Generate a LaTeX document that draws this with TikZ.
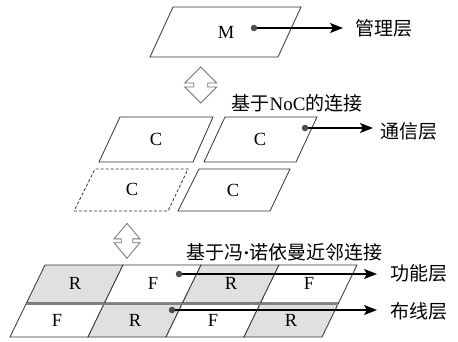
\documentclass[tikz,border=0pt]{standalone}
\usepackage{fontspec}
\setmainfont{Liberation Serif}
\newfontfamily\cjk{Noto Sans CJK SC}
\usetikzlibrary{arrows.meta}
\begin{document}
\begin{tikzpicture}[x=1pt,y=-1pt,
  layer/.style={draw=black!80, line width=0.8pt},
  ghost/.style={layer, dash pattern=on 3pt off 2pt},
  tag/.style={font=\fontsize{18.5}{21}\selectfont, inner sep=0pt},
  lbl/.style={font=\fontsize{19}{21}\selectfont\cjk, inner sep=0pt, anchor=west},
  dot/.style={circle, fill=black!70, minimum size=6.5pt, inner sep=0pt},
  flow/.style={line width=1.3pt, -{Stealth[length=13pt,width=10pt,inset=3pt]}},
  updown/.pic={
    \draw[black!55, line width=0.8pt, fill=white]
      (0,-18) -- (16,-2) -- (7,-2) -- (7,2) -- (16,2) -- (0,18)
      -- (-16,2) -- (-7,2) -- (-7,-2) -- (-16,-2) -- cycle;
  }
]
\useasboundingbox (0,0) rectangle (458,341);

% management layer
\draw[layer] (150,57) -- (278,57) -- (301,7) -- (173,7) -- cycle;
\node[tag] (m) at (226,32.5) {M};
\node[dot] (dm) at (254,28) {};
\node[lbl] (lm) at (355,28) {管理层};
\draw[flow, shorten >=12pt] (dm) -- (dm -| lm.west);

% link between management and communication layers
\pic at (200.7,85) {updown};
\node[tag, font=\fontsize{19}{21}\selectfont] (noc) at (297,103) {{\cjk 基于}NoC{\cjk 的连接}};

% communication layer
\draw[layer] (99,162) -- (193,162) -- (213,117) -- (120,117) -- cycle;
\draw[layer] (204,162) -- (296,162) -- (317,117) -- (225,117) -- cycle;
\draw[ghost] (74,211) -- (168,211) -- (188,169) -- (95,169) -- cycle;
\draw[layer] (178,211) -- (270,211) -- (290,169) -- (199,169) -- cycle;
\node[tag] (c1) at (156,139) {C};
\node[tag] (c2) at (260,139) {C};
\node[tag] (c3) at (132,189) {C};
\node[tag] (c4) at (233,190) {C};
\node[dot] (dc) at (305,128) {};
\node[lbl] (lc) at (380,131) {通信层};
\draw[flow, shorten >=7pt] (dc) -- (dc -| lc.west);

% link between communication and function/routing layers
\pic[xscale=0.81, yscale=0.97] at (127,240.8) {updown};
\node[lbl, anchor=center] (vn) at (284.5,252) {基于冯{\rmfamily\bfseries ·}诺依曼近邻连接};

% function layer (top row) and routing layer (bottom row)
\foreach \i in {0,...,3}{
  \pgfmathsetmacro{\shade}{mod(\i,2)==0 ? 12 : 0}
  \draw[layer, fill=black!\shade] (45+78*\i,265) -- ++(78,0) -- ++(-18.5,38) -- ++(-78,0) -- cycle;
  \pgfmathsetmacro{\shadeb}{mod(\i,2)==1 ? 12 : 0}
  \draw[layer, fill=black!\shadeb] (26.5+78*\i,303) -- ++(78,0) -- ++(-16.5,34) -- ++(-78,0) -- cycle;
}
\draw[black!50, line width=2.2pt] (26.3,303.6) -- (338.3,303.6);
\foreach \i/\t in {0/R,1/F,2/R,3/F}
  \node[tag] (fn\i) at (75+78*\i,283.5) {\t};
\foreach \i/\t in {0/F,1/R,2/F,3/R}
  \node[tag] (rt\i) at (57+78*\i,320.5) {\t};
\node[dot] (df) at (179,274) {};
\node[lbl] (lf) at (390,273.5) {功能层};
\draw[flow, shorten >=13pt] (df) -- (df -| lf.west);
\node[dot] (dr) at (172,310) {};
\node[lbl] (lr) at (390,311) {布线层};
\draw[flow, shorten >=13pt] (dr) -- (dr -| lr.west);
\end{tikzpicture}
\end{document}
